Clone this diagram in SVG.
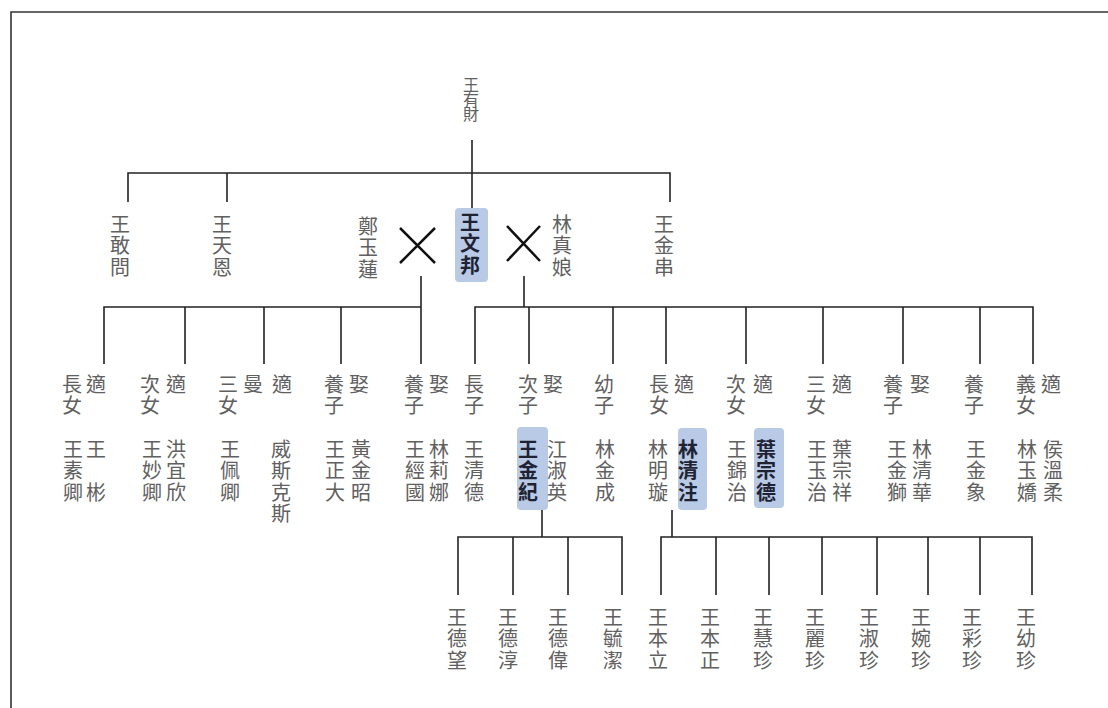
<svg xmlns="http://www.w3.org/2000/svg" width="1108" height="708" viewBox="0 0 1108 708">
<style>
.t{font-family:"Noto Sans CJK TC","Noto Sans CJK JP",sans-serif;font-size:20px;fill:#606060;writing-mode:vertical-rl;letter-spacing:1.5px}
.s{font-size:16px;letter-spacing:-1.5px}
.b{font-weight:bold;fill:#1e2233}
.ln{stroke:#222;stroke-width:1.6;fill:none}
.hl{fill:#b8cae6}
.x{stroke:#111;stroke-width:2.5;fill:none}
</style>
<rect width="1108" height="708" fill="#fff"/>
<path d="M11,720 V12 H1120" fill="none" stroke="#333" stroke-width="1.6"/>
<g id="connectors">
<path class="ln" d="M472,140 V208 M128,202 V173 H670 V202 M227,173 V202"/>
<path class="x" d="M400,228 L435,263 M435,228 L400,263"/>
<path class="x" d="M507,226 L540,261 M540,226 L507,261"/>
<path class="ln" d="M421,276 V364 M104,364 V307 H421 M185,307 V364 M264,307 V364 M341,307 V364"/>
<path class="ln" d="M524,276 V307 M475,364 V307 H1033 V364 M529,307 V364 M613,307 V364 M666,307 V364 M746,307 V364 M823,307 V364 M903,307 V364 M980,307 V364"/>
<path class="ln" d="M542,510 V537 M458,595 V537 H622 V595 M513,537 V595 M568,537 V595"/>
<path class="ln" d="M672,510 V537 M661,595 V537 H1032 V595 M716,537 V595 M769,537 V595 M822,537 V595 M877,537 V595 M928,537 V595 M980,537 V595"/>
</g>
<g id="n-wangyoucai"><text class="t s" x="471" y="77">王有財</text></g>
<g id="n-wanggangwen"><text class="t" x="120" y="214">王敢問</text></g>
<g id="n-wangtianen"><text class="t" x="222" y="214">王天恩</text></g>
<g id="n-zhengyulian"><text class="t" x="368" y="216">鄭玉蓮</text></g>
<g id="n-wangwenbang"><rect class="hl" x="455" y="208" width="33" height="74" rx="4"/><text class="t b" x="470" y="212">王文邦</text></g>
<g id="n-linzhenniang"><text class="t" x="562" y="214">林真娘</text></g>
<g id="n-wangjinchuan"><text class="t" x="664" y="214">王金串</text></g>

<g id="c1"><text class="t" x="72" y="374">長女</text><text class="t" x="96" y="374">適</text><text class="t" x="73" y="439">王素卿</text><text class="t" x="96" y="439">王　彬</text></g>
<g id="c2"><text class="t" x="150" y="374">次女</text><text class="t" x="176" y="374">適</text><text class="t" x="152" y="439">王妙卿</text><text class="t" x="176" y="439">洪宜欣</text></g>
<g id="c3"><text class="t" x="228" y="374">三女</text><text class="t" x="253" y="374">曼</text><text class="t" x="282" y="374">適</text><text class="t" x="230" y="439">王佩卿</text><text class="t" x="281" y="439">威斯克斯</text></g>
<g id="c4"><text class="t" x="334" y="374">養子</text><text class="t" x="359" y="374">娶</text><text class="t" x="335" y="439">王正大</text><text class="t" x="361" y="439">黃金昭</text></g>
<g id="c5"><text class="t" x="414" y="374">養子</text><text class="t" x="439" y="374">娶</text><text class="t" x="415" y="439">王經國</text><text class="t" x="439" y="439">林莉娜</text></g>
<g id="c6"><text class="t" x="474" y="374">長子</text><text class="t" x="474" y="439">王清德</text></g>
<g id="c7"><text class="t" x="528" y="374">次子</text><text class="t" x="553" y="374">娶</text><rect class="hl" x="517" y="427" width="31" height="83" rx="4"/><text class="t b" x="528" y="439">王金紀</text><text class="t" x="557" y="439">江淑英</text></g>
<g id="c8"><text class="t" x="604" y="374">幼子</text><text class="t" x="605" y="439">林金成</text></g>
<g id="c9"><text class="t" x="659" y="374">長女</text><text class="t" x="684" y="374">適</text><text class="t" x="658" y="439">林明璇</text><rect class="hl" x="678" y="428" width="29" height="82" rx="4"/><text class="t b" x="688" y="439">林清注</text></g>
<g id="c10"><text class="t" x="736" y="374">次女</text><text class="t" x="763" y="374">適</text><text class="t" x="737" y="439">王錦治</text><rect class="hl" x="754" y="428" width="30" height="80" rx="4"/><text class="t b" x="766" y="439">葉宗德</text></g>
<g id="c11"><text class="t" x="816" y="374">三女</text><text class="t" x="842" y="374">適</text><text class="t" x="817" y="439">王玉治</text><text class="t" x="842" y="439">葉宗祥</text></g>
<g id="c12"><text class="t" x="893" y="374">養子</text><text class="t" x="920" y="374">娶</text><text class="t" x="897" y="439">王金獅</text><text class="t" x="922" y="439">林清華</text></g>
<g id="c13"><text class="t" x="974" y="374">養子</text><text class="t" x="976" y="439">王金象</text></g>
<g id="c14"><text class="t" x="1026" y="374">義女</text><text class="t" x="1051" y="374">適</text><text class="t" x="1027" y="439">林玉嬌</text><text class="t" x="1053" y="439">侯溫柔</text></g>

<g id="g1"><text class="t" x="457" y="607">王德望</text></g>
<g id="g2"><text class="t" x="508" y="607">王德淳</text></g>
<g id="g3"><text class="t" x="558" y="607">王德偉</text></g>
<g id="g4"><text class="t" x="613" y="607">王毓潔</text></g>
<g id="g5"><text class="t" x="658" y="607">王本立</text></g>
<g id="g6"><text class="t" x="710" y="607">王本正</text></g>
<g id="g7"><text class="t" x="763" y="607">王慧珍</text></g>
<g id="g8"><text class="t" x="815" y="607">王麗珍</text></g>
<g id="g9"><text class="t" x="869" y="607">王淑珍</text></g>
<g id="g10"><text class="t" x="921" y="607">王婉珍</text></g>
<g id="g11"><text class="t" x="972" y="607">王彩珍</text></g>
<g id="g12"><text class="t" x="1026" y="607">王幼珍</text></g>
</svg>
